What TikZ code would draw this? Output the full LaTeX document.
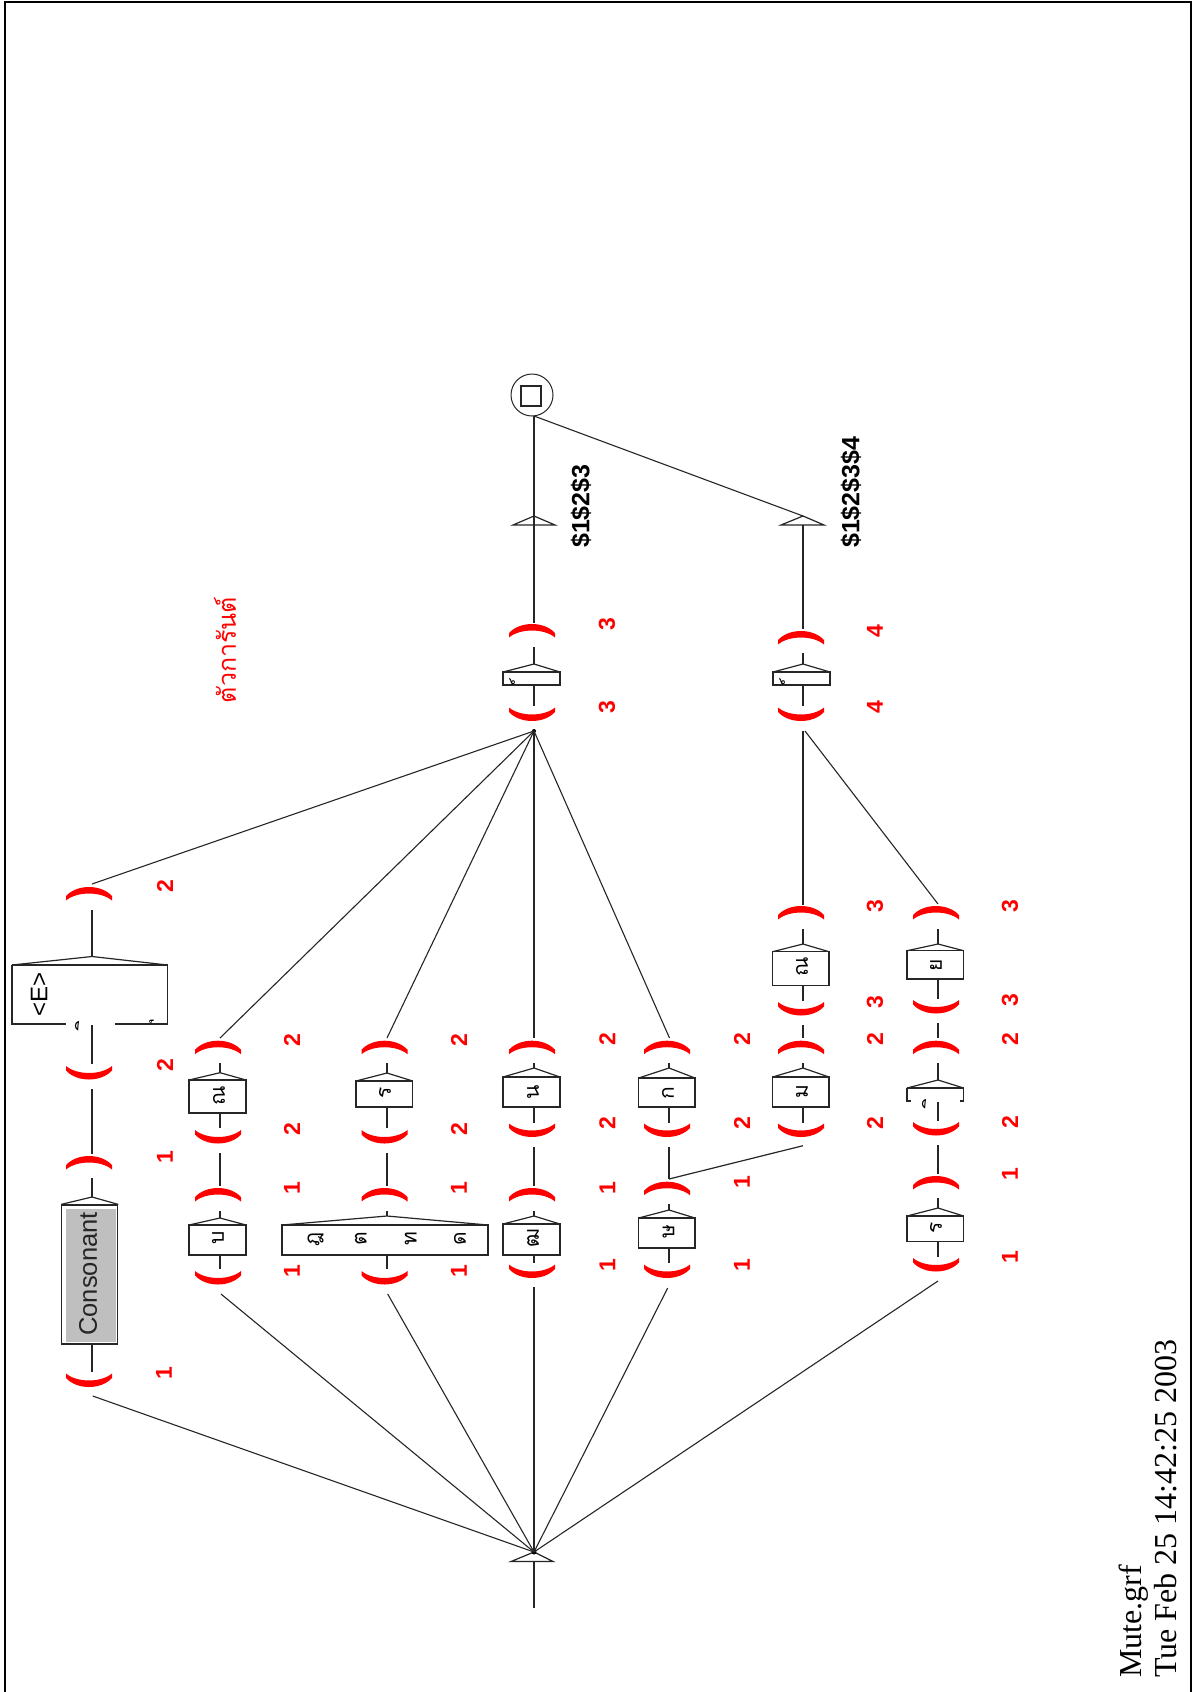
\documentclass[tikz,border=0pt]{standalone}
\usepackage{fontspec}
\setmainfont{Liberation Serif}
\setsansfont{Liberation Sans}
\newfontfamily\thaifont[Script=Thai]{Loma}
\newcommand\crU[3]{\fill[parenred] (#2-23,#3+13.5) -- (#2-23,#3+9) .. controls (#2-12,#3-3) and (#2+12,#3-3) .. (#2+23,#3+9) -- (#2+23,#3+13.5) .. controls (#2+12,#3+4.2) and (#2-12,#3+4.2) .. cycle; \coordinate (#1) at (#2,#3);}
\newcommand\crD[3]{\fill[parenred] (#2-23,#3-13.5) -- (#2-23,#3-9) .. controls (#2-12,#3+3) and (#2+12,#3+3) .. (#2+23,#3-9) -- (#2+23,#3-13.5) .. controls (#2+12,#3-4.2) and (#2-12,#3-4.2) .. cycle; \coordinate (#1) at (#2,#3);}
\newcommand\seg[4]{\coordinate (#1a) at (#2,#3); \coordinate (#1b) at (#2,#4); \draw[conn] (#1a) -- (#1b);}
% name, xl, xr, apex x, apex y, top y, bottom y
\newcommand\bxs[7]{\node[bxshape,minimum width={#3-#2},minimum height={#7-#6}] (#1) at ({(#2+#3)/2},{(#6+#7)/2}) {};
 \coordinate (#1apex) at (#4,#5);
 \draw[conn,line join=miter] (#1.north west) -- (#1apex) -- (#1.north east);}
\newcommand\tok[4]{\node[thtok] (#1) at (#2,#3) {#4};}
\newcommand\marktok[4]{\node[thtok,anchor=center] (#1) at (#2,#3) {\char"00A0\char"00A0#4};}
\newcommand\num[4]{\node[numtxt] (#1) at (#2,#3) {#4};}
\tikzset{
 x=1pt,y=-1pt,
 conn/.style={draw=black!85,line width=1.2pt},
 diag/.style={draw=black!85,line width=1.1pt},
 bxshape/.style={draw=black!85,line width=1.3pt,inner sep=0pt,outer sep=0pt,rectangle},
 thtok/.style={rotate=90,inner sep=0pt,font=\thaifont\fontsize{21}{21}\selectfont,text=black},
 numtxt/.style={rotate=90,inner sep=0pt,font=\sffamily\bfseries\fontsize{23}{23}\selectfont,text=red},
 outtxt/.style={rotate=90,anchor=west,inner sep=0pt,font=\sffamily\bfseries\fontsize{25}{25}\selectfont,text=black},
 foot/.style={rotate=90,anchor=base west,inner sep=0pt,font=\rmfamily\fontsize{32}{32}\selectfont,text=black},
}
\colorlet{parenred}{red}
\begin{document}
\begin{tikzpicture}
\useasboundingbox (0,0) rectangle (1192,1692);
\fill[white] (0,0) rectangle (1192,1692);
\draw[black,line width=2pt] (5,1700) -- (5,1.5) -- (1190.5,1.5) -- (1190.5,1700);
% junctions
\coordinate (merge) at (534,731);
\coordinate (mergeb) at (805,731);
\fill (merge) circle (2);
% initial state
\coordinate (initapex) at (534,1552);
\coordinate (initl) at (511,1561.5);
\coordinate (initr) at (553,1561.5);
\draw[conn] (initl) -- (initapex) -- (initr) -- cycle;
\fill (initapex) circle (2.5);
\seg{initout}{534}{1561.5}{1608}
% final state
\node[draw=black!85,line width=1pt,circle,minimum size=42,inner sep=0pt] (final) at (532,395) {};
\node[draw=black!85,line width=1.2pt,rectangle,minimum size=20,inner sep=0pt] (finalsq) at (531,396) {};
\coordinate (finalout) at (534,416);
% outputs
\coordinate (tr1apex) at (534,516); \coordinate (tr1l) at (513,525); \coordinate (tr1r) at (555,525);
\coordinate (tr2apex) at (803,516); \coordinate (tr2l) at (781,525); \coordinate (tr2r) at (824,525);
\draw[conn] (tr1l) -- (tr1apex) -- (tr1r) -- cycle;
\draw[conn] (tr2l) -- (tr2apex) -- (tr2r) -- cycle;
\draw[conn] (finalout) -- (534,525);
\draw[diag] (finalout) -- (tr2apex);
\node[outtxt] (o1) at (581,548) {\$1\$2\$3};
\node[outtxt] (o2) at (851,548) {\$1\$2\$3\$4};
\seg{l1}{534}{525}{623}
\seg{l2}{803}{525}{629}
% mute boxes
\crU{m1t}{532}{624}
\seg{m1s}{534}{647}{664}
\bxs{m1}{503}{560}{534}{664}{672}{685}
\seg{m1u}{534}{685}{706}
\crD{m1d}{532}{721}
\marktok{m1g}{520.5}{684}{\char"0E4C}
\num{n31}{607}{624}{3}
\num{n32}{607}{707}{3}
\crU{m2t}{801}{631}
\seg{m2s}{803}{653}{664}
\bxs{m2}{773}{830}{803}{664}{672}{685}
\seg{m2u}{803}{685}{706}
\crD{m2d}{801}{721}
\marktok{m2g}{790.5}{684}{\char"0E4C}
\num{n41}{875}{631}{4}
\num{n42}{875}{707}{4}
\seg{mb}{803}{731}{905}
% red caption
\node[rotate=90,inner sep=0pt,font=\thaifont\fontsize{25}{25}\selectfont,text=red] (cap) at (225,650) {ตัวการันต์};
% Column 0
\coordinate (c0t) at (92,884);
\draw[diag] (c0t) -- (merge);
\crU{c0a}{89}{887}
\num{n0a}{165}{886}{2}
\seg{c0l1}{92}{910}{956}
\coordinate (eapex) at (92,956.5);
\draw[conn,line join=miter] (12,965) -- (eapex) -- (167.5,965);
\draw[conn] (12,965) -- (167.5,965);
\draw[conn] (66,1024) -- (12,1024) -- (12,965);
\draw[conn] (115,1024) -- (167.5,1024) -- (167.5,965);
\node[rotate=90,inner sep=0pt,font=\sffamily\fontsize{24}{24}\selectfont] (et) at (39,994) {<E>};
\marktok{etk1}{83.5}{1025}{\char"0E34}
\marktok{etk2}{151}{1024}{\char"0E38}
\seg{c0l2}{92}{1025}{1064}
\crD{c0b}{89}{1079.5}
\num{n0b}{165}{1065}{2}
\seg{c0l3}{92}{1089}{1154}
\crU{c0c}{89}{1156}
\num{n0c}{165}{1157}{1}
\seg{c0l4}{92}{1178}{1197}
\node[draw=black!85,line width=1.2pt,rectangle,inner sep=0pt,minimum width=56,minimum height=139] (cons) at (89.7,1274.5) {};
\fill[black!25] (66,1209) rectangle (115.5,1341.5);
\coordinate (capex) at (92,1197);
\draw[conn,line join=miter] (cons.north west) -- (capex) -- (cons.north east);
\node[rotate=90,inner sep=0pt,font=\sffamily\fontsize{25.5}{25.5}\selectfont,text=black!85] (constxt) at (88,1274) {Consonant};
\seg{c0l5}{92}{1344}{1372}
\crD{c0d}{89}{1387}
\num{n0d}{164}{1373}{1}
\coordinate (c0e) at (92.7,1396);
\draw[diag] (c0e) -- (initapex);
% Column 1
\coordinate (c1t) at (220,1038);
\draw[diag] (merge) -- (c1t);
\crU{c1a}{218}{1040.7}
\seg{c1l1}{220}{1063}{1073}
\bxs{c1u}{189}{246}{220}{1072.7}{1080}{1113}
\tok{c1ug}{219}{1096}{ณ}
\seg{c1l2}{220}{1113}{1128}
\crD{c1b}{218}{1143.5}
\seg{c1l3}{220}{1153}{1186}
\crU{c1c}{218}{1188}
\seg{c1l4}{220}{1211}{1218}
\bxs{c1d}{189}{246}{220}{1218}{1225}{1255}
\tok{c1dg}{218}{1238}{บ}
\seg{c1l5}{220}{1255}{1269}
\crD{c1e}{218}{1284.5}
\coordinate (c1z) at (221,1294);
\draw[diag] (c1z) -- (initapex);
\num{n11}{292}{1040}{2}
\num{n12}{292}{1129}{2}
\num{n13}{292}{1188}{1}
\num{n14}{292}{1271}{1}
% Column 2
\coordinate (c2t) at (387,1038);
\draw[diag] (merge) -- (c2t);
\crU{c2a}{384.5}{1040.7}
\seg{c2l1}{387}{1063}{1073}
\bxs{c2u}{356}{412.7}{387}{1073}{1081}{1107}
\tok{c2ug}{385}{1093}{ร}
\seg{c2l2}{387}{1107}{1128}
\crD{c2b}{384.5}{1143.5}
\seg{c2l3}{387}{1153}{1186}
\crU{c2c}{384.5}{1188}
\seg{c2l4}{387}{1211}{1216}
\bxs{c2d}{282}{488}{387}{1216}{1225}{1255}
\tok{c2g1}{315.7}{1239}{ฎ}
\tok{c2g2}{360.7}{1239}{ต}
\tok{c2g3}{410.7}{1239}{ท}
\tok{c2g4}{460}{1239}{ด}
\seg{c2l5}{387}{1255}{1269}
\crD{c2e}{384.5}{1284.5}
\coordinate (c2z) at (387.7,1294);
\draw[diag] (c2z) -- (initapex);
\num{n21}{459}{1040}{2}
\num{n22}{459}{1129}{2}
\num{n23}{459}{1188}{1}
\num{n24}{459}{1271}{1}
% Column 3
\crU{c3a}{532}{1040.7}
\coordinate (c3t) at (534,1038);
\draw[conn] (merge) -- (c3t);
\seg{c3l1}{534}{1063}{1068}
\bxs{c3u}{503}{560}{534}{1068}{1077}{1107}
\tok{c3ug}{533}{1092}{น}
\seg{c3l2}{534}{1107}{1123}
\crD{c3b}{532}{1137}
\seg{c3l3}{534}{1147}{1186}
\crU{c3c}{532}{1188}
\seg{c3l4}{534}{1211}{1216}
\bxs{c3d}{503}{560}{534}{1216}{1224}{1255}
\tok{c3dg}{533}{1238}{ฒ}
\seg{c3l5}{534}{1255}{1263}
\crD{c3e}{532}{1278}
\coordinate (c3z) at (534,1287);
\draw[conn] (c3z) -- (initapex);
\num{n31a}{607.4}{1039}{2}
\num{n32a}{607.4}{1123}{2}
\num{n33a}{607.4}{1188}{1}
\num{n34a}{607.4}{1265}{1}
% Column 4
\coordinate (c4t) at (669.5,1038);
\draw[diag] (merge) -- (c4t);
\crU{c4a}{667}{1040.7}
\seg{c4l1}{669}{1063}{1068}
\bxs{c4u}{638.6}{695}{669}{1068}{1078}{1107}
\tok{c4ug}{668}{1092.7}{ก}
\seg{c4l2}{669}{1107}{1123}
\crD{c4b}{667}{1137}
\seg{c4l3}{669}{1147}{1179}
\crU{c4c}{667}{1181.7}
\seg{c4l4}{669}{1204}{1210}
\bxs{c4d}{638.6}{695}{669}{1210}{1218}{1248}
\tok{c4dg}{668.4}{1232}{ษ}
\seg{c4l5}{669}{1248}{1263}
\crD{c4e}{667}{1278}
\coordinate (c4z) at (667.7,1288);
\draw[diag] (c4z) -- (initapex);
\coordinate (c5z) at (803,1145.7);
\draw[conn] (c4l3b) -- (c5z);
\num{n41a}{742}{1039}{2}
\num{n42a}{742}{1123}{2}
\num{n43a}{742}{1182}{1}
\num{n44a}{742}{1265}{1}
% Column 5
\crU{c5a}{801}{906}
\seg{c5l1}{803}{929}{944}
\bxs{c5u}{772.6}{829}{803}{944}{951.7}{985.7}
\tok{c5ug}{802}{967}{ณ}
\seg{c5l2}{803}{985.7}{1000.7}
\crD{c5b}{801}{1015.5}
\seg{c5l3}{803}{1025}{1038}
\crU{c5c}{801}{1040.7}
\seg{c5l4}{803}{1063}{1068}
\bxs{c5d}{772.6}{829}{803}{1068}{1077}{1107}
\tok{c5dg}{802}{1091.7}{ม}
\seg{c5l5}{803}{1107}{1123}
\crD{c5e}{801}{1137}
\num{n51}{875}{906}{3}
\num{n52}{875}{1001.7}{3}
\num{n53}{875}{1039}{2}
\num{n54}{875}{1123}{2}
% Column 6
\coordinate (c6t) at (938,904);
\draw[diag] (mergeb) -- (c6t);
\crU{c6a}{936}{906}
\seg{c6l1}{938}{929}{944}
\bxs{c6u}{907}{963.6}{938}{944}{950.7}{979}
\tok{c6ug}{936}{965.7}{ย}
\seg{c6l2}{938}{979}{999}
\crD{c6b}{936}{1013.5}
\seg{c6l3}{938}{1023}{1038}
\crU{c6c}{936}{1040.7}
\seg{c6l4}{938}{1063}{1080}
\coordinate (iapex) at (938,1080);
\draw[conn,line join=miter] (907,1088) -- (iapex) -- (963.6,1088);
\draw[conn] (907,1088) -- (963.6,1088);
\draw[conn] (910.5,1101) -- (907,1101) -- (907,1088);
\draw[conn] (960,1101) -- (963.6,1101) -- (963.6,1088);
\marktok{c6mg}{930.5}{1103}{\char"0E34}
\seg{c6l5}{938}{1101.7}{1120.7}
\crD{c6d}{936}{1135.5}
\seg{c6l6}{938}{1145}{1174}
\crU{c6e}{936}{1176}
\seg{c6l7}{938}{1198}{1208}
\bxs{c6f}{907}{963.6}{938}{1208}{1216}{1241.7}
\tok{c6fg}{936}{1227.7}{ร}
\seg{c6l8}{938}{1241.7}{1256.7}
\crD{c6g}{936}{1271.5}
\coordinate (c6z) at (938,1281);
\draw[diag] (c6z) -- (initapex);
\num{n61}{1010}{906}{3}
\num{n62}{1010}{1000}{3}
\num{n63}{1010}{1039}{2}
\num{n64}{1010}{1122}{2}
\num{n65}{1010}{1174}{1}
\num{n66}{1010}{1257}{1}
% footer
\node[foot] (f1) at (1141.5,1678) {Mute.grf};
\node[foot] (f2) at (1176.5,1678) {Tue Feb 25 14:42:25 2003};
\end{tikzpicture}
\end{document}
